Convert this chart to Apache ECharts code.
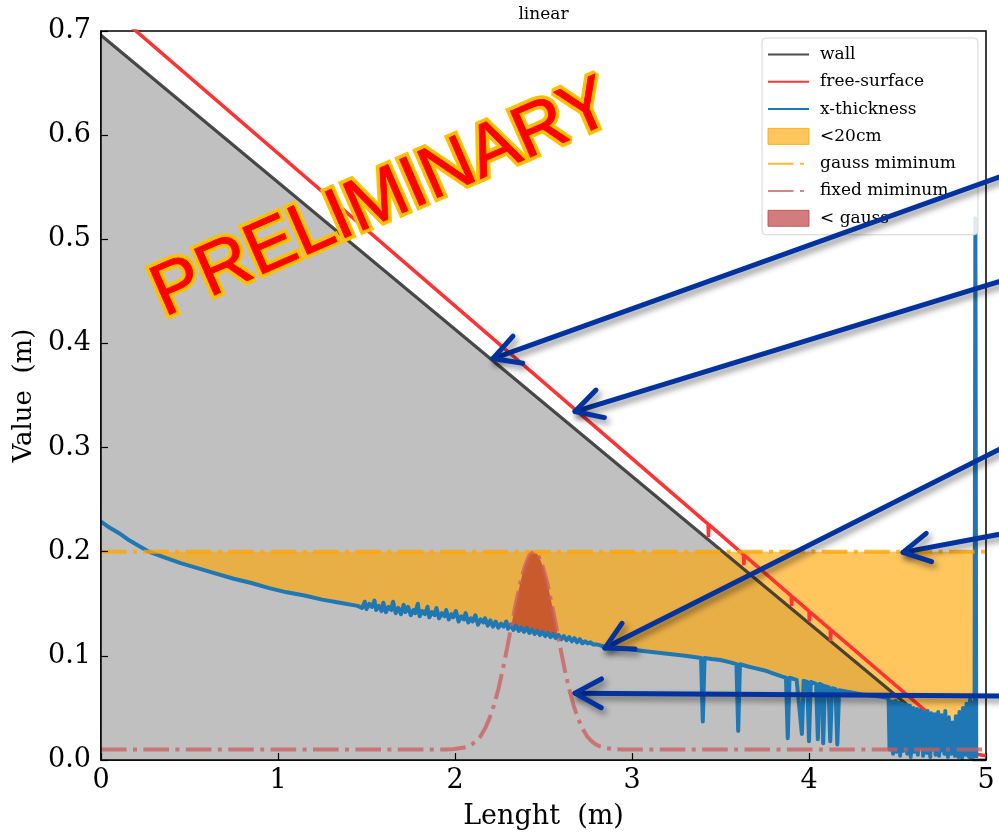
<!DOCTYPE html>
<html>
<head>
<meta charset="utf-8">
<script src="https://cdn.jsdelivr.net/npm/echarts@6/dist/echarts.min.js"></script>
<style>html,body{margin:0;padding:0;background:#fff}#c{width:999px;height:835px}</style>
</head>
<body>
<div id="c"></div>
<script>
// ---------- data ----------
const xTicks = [0, 1, 2, 3, 4, 5];
const yTicks = [0.0, 0.1, 0.2, 0.3, 0.4, 0.5, 0.6, 0.7];

const wall = [[0, 0.696], [4.93, 0.0], [5.0, 0.0]];

// visible part of the free surface, and the short piece at the bottom right
const freeSurface = [
  [0, 0.729], [3.43, 0.2265], [3.432, 0.214], [3.435, 0.2260],
  [3.63, 0.1972], [3.632, 0.187], [3.635, 0.1965],
  [3.90, 0.1576], [3.902, 0.148], [3.905, 0.1569],
  [4.00, 0.143], [4.002, 0.133], [4.005, 0.1423],
  [4.12, 0.1254], [4.122, 0.114], [4.125, 0.1247],
  [4.68, 0.044]
];
const freeSurfaceTail = [[4.93, 0.006], [5.0, 0.004]];

const thickness = [
  [0, 0.229], [0.05, 0.223], [0.1, 0.218], [0.15, 0.212], [0.2, 0.207], [0.27, 0.200],
  [0.35, 0.195], [0.45, 0.189], [0.55, 0.184], [0.65, 0.179], [0.75, 0.174], [0.85, 0.170],
  [0.95, 0.165], [1.05, 0.161], [1.15, 0.158], [1.25, 0.154], [1.35, 0.151], [1.45, 0.148],
  [1.46, 0.149], [1.475, 0.146], [1.49, 0.152], [1.50, 0.145], [1.515, 0.150], [1.53, 0.147],
  [1.545, 0.153], [1.555, 0.144], [1.57, 0.148], [1.585, 0.143], [1.595, 0.151], [1.61, 0.142],
  [1.625, 0.147], [1.64, 0.144], [1.65, 0.152], [1.665, 0.141], [1.68, 0.146], [1.695, 0.140],
  [1.71, 0.149], [1.72, 0.142], [1.735, 0.147], [1.75, 0.139], [1.765, 0.144], [1.775, 0.141],
  [1.79, 0.150], [1.80, 0.138], [1.815, 0.143], [1.83, 0.140], [1.845, 0.147], [1.855, 0.137],
  [1.87, 0.142], [1.885, 0.139], [1.895, 0.146], [1.91, 0.136], [1.925, 0.141], [1.94, 0.138],
  [1.95, 0.144], [1.965, 0.135], [1.98, 0.140], [1.99, 0.137], [2.005, 0.143], [2.02, 0.133],
  [2.035, 0.138], [2.05, 0.135], [2.06, 0.141], [2.075, 0.132], [2.09, 0.136], [2.10, 0.133],
  [2.115, 0.139], [2.13, 0.130], [2.145, 0.135], [2.16, 0.132], [2.17, 0.136], [2.185, 0.129],
  [2.20, 0.134], [2.215, 0.128], [2.23, 0.133], [2.245, 0.127], [2.26, 0.131], [2.275, 0.128],
  [2.29, 0.133], [2.30, 0.126], [2.315, 0.130], [2.33, 0.125], [2.345, 0.129], [2.36, 0.124],
  [2.375, 0.127], [2.39, 0.123], [2.405, 0.127], [2.42, 0.122], [2.435, 0.125], [2.45, 0.121],
  [2.465, 0.124], [2.48, 0.120], [2.495, 0.123], [2.51, 0.119], [2.525, 0.122], [2.54, 0.118],
  [2.555, 0.121], [2.57, 0.117], [2.585, 0.120], [2.60, 0.116], [2.615, 0.119], [2.63, 0.115],
  [2.645, 0.118], [2.66, 0.114], [2.675, 0.117], [2.69, 0.113], [2.705, 0.116], [2.72, 0.112],
  [2.735, 0.114], [2.75, 0.112], [2.765, 0.113], [2.78, 0.111], [2.80, 0.111], [2.82, 0.110],
  [2.84, 0.109], [2.87, 0.109], [2.90, 0.108], [2.95, 0.107],
  [3.00, 0.106], [3.05, 0.105], [3.10, 0.104], [3.15, 0.103], [3.20, 0.102],
  [3.25, 0.101], [3.30, 0.100], [3.35, 0.099], [3.39, 0.098], [3.40, 0.037], [3.41, 0.098],
  [3.45, 0.097], [3.50, 0.096], [3.55, 0.094], [3.59, 0.092], [3.60, 0.028], [3.61, 0.092],
  [3.65, 0.090], [3.70, 0.088], [3.75, 0.086], [3.80, 0.083], [3.85, 0.080], [3.87, 0.079],
  [3.88, 0.021], [3.89, 0.079], [3.93, 0.077], [3.96, 0.025], [3.97, 0.076], [3.99, 0.075],
  [4.00, 0.018], [4.01, 0.075], [4.04, 0.073], [4.05, 0.020], [4.06, 0.073], [4.075, 0.072],
  [4.08, 0.016], [4.09, 0.071], [4.11, 0.070], [4.12, 0.018], [4.13, 0.069], [4.15, 0.068],
  [4.16, 0.015], [4.17, 0.067], [4.20, 0.066], [4.30, 0.063], [4.40, 0.061], [4.44, 0.060],
  [4.450, 0.058], [4.455, 0.010], [4.460, 0.054], [4.465, 0.018], [4.470, 0.056], [4.475, 0.006],
  [4.480, 0.052], [4.485, 0.022], [4.490, 0.057], [4.495, 0.008], [4.500, 0.050], [4.505, 0.014],
  [4.510, 0.055], [4.515, 0.004], [4.520, 0.051], [4.525, 0.017], [4.530, 0.054], [4.535, 0.009],
  [4.540, 0.049], [4.545, 0.020], [4.550, 0.053], [4.555, 0.006], [4.560, 0.047], [4.565, 0.013],
  [4.570, 0.052], [4.575, 0.003], [4.580, 0.048], [4.585, 0.016], [4.590, 0.050], [4.595, 0.008],
  [4.600, 0.045], [4.605, 0.019], [4.610, 0.049], [4.615, 0.005], [4.620, 0.044], [4.625, 0.012],
  [4.630, 0.048], [4.635, 0.022], [4.640, 0.042], [4.645, 0.004], [4.650, 0.046], [4.655, 0.011],
  [4.660, 0.040], [4.665, 0.007], [4.670, 0.047], [4.675, 0.015], [4.680, 0.037], [4.685, 0.003],
  [4.690, 0.045], [4.695, 0.010], [4.700, 0.039], [4.705, 0.018], [4.710, 0.044], [4.715, 0.005],
  [4.720, 0.035], [4.725, 0.012], [4.730, 0.046], [4.735, 0.004], [4.740, 0.038], [4.745, 0.009],
  [4.750, 0.043], [4.755, 0.016], [4.760, 0.034], [4.765, 0.006], [4.770, 0.047], [4.775, 0.011],
  [4.780, 0.032], [4.785, 0.003], [4.790, 0.041], [4.795, 0.014], [4.800, 0.028], [4.805, 0.006],
  [4.810, 0.036], [4.815, 0.010], [4.820, 0.030], [4.825, 0.004], [4.830, 0.042], [4.835, 0.013],
  [4.840, 0.039], [4.845, 0.003], [4.850, 0.046], [4.855, 0.008], [4.860, 0.044], [4.865, 0.002],
  [4.870, 0.050], [4.875, 0.012], [4.880, 0.048], [4.885, 0.005], [4.890, 0.054], [4.895, 0.009],
  [4.900, 0.052], [4.905, 0.003], [4.910, 0.058], [4.915, 0.006], [4.920, 0.055], [4.925, 0.002],
  [4.930, 0.030], [4.935, 0.004], [4.94, 0.520], [4.945, 0.002]
];

const gaussMinimum = [[0, 0.2], [5, 0.2]];

const fixedMinimum = [
  [0, 0.010], [1.945, 0.010], [1.995, 0.0105], [2.045, 0.0117], [2.07, 0.013], [2.095, 0.015],
  [2.12, 0.0183], [2.145, 0.023], [2.17, 0.0303], [2.195, 0.040], [2.22, 0.0525], [2.245, 0.068],
  [2.27, 0.0868], [2.295, 0.108], [2.32, 0.130], [2.345, 0.151], [2.37, 0.171], [2.395, 0.186],
  [2.42, 0.1965], [2.445, 0.200], [2.47, 0.1965], [2.495, 0.186], [2.52, 0.171], [2.545, 0.151],
  [2.57, 0.130], [2.595, 0.108], [2.62, 0.0868], [2.645, 0.068], [2.67, 0.0525], [2.695, 0.040],
  [2.72, 0.0303], [2.745, 0.023], [2.77, 0.0183], [2.795, 0.015], [2.82, 0.013], [2.845, 0.0117],
  [2.895, 0.0105], [2.945, 0.010], [5.0, 0.010]
];

// "< gauss" region: x, upper (gauss curve), lower (x-thickness)
const gaussFillX     = [2.315, 2.34, 2.36, 2.38, 2.40, 2.42, 2.445, 2.46, 2.48, 2.50, 2.52, 2.54, 2.56, 2.583];
const gaussFillUpper = [0.127, 0.147, 0.163, 0.178, 0.189, 0.1966, 0.200, 0.1987, 0.193, 0.184, 0.171, 0.1555, 0.138, 0.118];
const gaussFillLower = [0.127, 0.126, 0.126, 0.125, 0.124, 0.123, 0.122, 0.121, 0.121, 0.120, 0.119, 0.119, 0.118, 0.118];

// annotations (data space)
const arrows = [
  { from: [5.11, 0.562], to: [2.215, 0.3855] },
  { from: [5.107, 0.461], to: [2.678, 0.3346] },
  { from: [5.107, 0.301], to: [2.847, 0.1075] },
  { from: [5.107, 0.2177], to: [4.531, 0.1994] },
  { from: [5.107, 0.0614], to: [2.678, 0.0642] }
];
const watermark = { text: 'PRELIMINARY', at: [1.59, 0.538] };

// ---------- chart ----------
const SERIF = 'DejaVu Serif';
const chart = echarts.init(document.getElementById('c'), null, { renderer: 'canvas' });

const orangeFill = 'rgba(255,165,0,0.63)';
const redFill = 'rgba(195,75,40,0.85)';
const dashDot = [25.6, 6.4, 4, 6.4];

const thickForFill = thickness.filter(p => p[0] >= 0.27 && p[0] <= 4.935);
const gaussFillData = gaussFillX.map((x, i) => [x, gaussFillUpper[i], gaussFillLower[i]]);

const GRID = { left: 101, right: 13, top: 31, bottom: 74 };
const hideSym = { opacity: 0 };

const option = {
  animation: false,
  backgroundColor: '#fff',
  grid: Object.assign({ show: true, borderColor: '#000', borderWidth: 1.5, backgroundColor: 'transparent' }, GRID),
  xAxis: {
    type: 'value', min: 0, max: 5, interval: 1,
    name: 'Lenght  (m)', nameLocation: 'middle', nameGap: 43,
    nameTextStyle: { fontFamily: SERIF, fontSize: 27, color: '#000' },
    axisLine: { show: true, onZero: false, lineStyle: { color: '#000', width: 1.5 } },
    axisTick: { show: true, inside: true, length: 7, lineStyle: { color: '#000', width: 1.2 } },
    axisLabel: { fontFamily: SERIF, fontSize: 27, color: '#000', margin: 7,
      formatter: v => xTicks.indexOf(v) >= 0 ? String(v) : '' },
    splitLine: { show: false },
    z: 10
  },
  yAxis: {
    type: 'value', min: 0, max: 0.7, interval: 0.1,
    name: 'Value  (m)', nameLocation: 'middle', nameGap: 62,
    nameTextStyle: { fontFamily: SERIF, fontSize: 26, color: '#000' },
    axisLine: { show: true, onZero: false, lineStyle: { color: '#000', width: 1.5 } },
    axisTick: { show: true, inside: true, length: 7, lineStyle: { color: '#000', width: 1.2 } },
    axisLabel: { fontFamily: SERIF, fontSize: 27, color: '#000', margin: 10,
      formatter: v => {
        const t = yTicks.find(k => Math.abs(k - v) < 1e-6);
        return t === undefined ? '' : t.toFixed(1);
      } },
    splitLine: { show: false },
    z: 10
  },
  legend: {
    orient: 'vertical', left: 762, top: 38,
    padding: [8, 22, 8, 5],
    itemWidth: 41, itemHeight: 16, itemGap: 10.3,
    backgroundColor: 'rgba(255,255,255,0.85)', borderColor: '#d4d4d4', borderWidth: 1, borderRadius: 4,
    textStyle: { fontFamily: SERIF, fontSize: 17, color: '#000', padding: [0, 0, 0, 6] },
    selectedMode: false,
    z: 20,
    data: [
      { name: 'wall', itemStyle: hideSym },
      { name: 'free-surface', itemStyle: hideSym },
      { name: 'x-thickness', itemStyle: hideSym },
      { name: '<20cm', icon: 'rect', itemStyle: { color: orangeFill, borderColor: 'rgba(255,165,0,0.8)', borderWidth: 1 } },
      { name: 'gauss miminum', itemStyle: hideSym },
      { name: 'fixed miminum', itemStyle: hideSym },
      { name: '< gauss', icon: 'rect', itemStyle: { color: 'rgba(190,70,70,0.7)', borderColor: 'rgba(190,70,70,0.8)', borderWidth: 1 } }
    ]
  },
  series: [
    {
      name: 'wall', type: 'line', data: wall, symbol: 'none', z: 2,
      color: '#404040',
      lineStyle: { color: 'rgba(45,45,45,0.85)', width: 3.2 },
      areaStyle: { color: '#c0c0c0', opacity: 1, origin: 'start' }
    },
    {
      name: 'free-surface', type: 'line', data: freeSurface, symbol: 'none', z: 2,
      color: '#ff3333',
      lineStyle: { color: '#ff3333', width: 3.5 }
    },
    {
      name: 'free-surface', type: 'line', data: freeSurfaceTail, symbol: 'none', z: 2,
      color: '#ff3333',
      lineStyle: { color: '#ff3333', width: 3.5 }
    },
    {
      name: '<20cm', type: 'line', data: thickForFill, symbol: 'none', z: 2,
      color: orangeFill,
      lineStyle: { width: 0, opacity: 0 },
      areaStyle: { color: orangeFill, opacity: 1, origin: 0.2 }
    },
    {
      name: '< gauss', type: 'custom', data: gaussFillData, z: 2,
      color: redFill,
      encode: { x: 0, y: [1, 2] },
      renderItem: (params, api) => {
        if (params.dataIndex !== 0) return null;
        const pts = [];
        for (let i = 0; i < gaussFillData.length; i++) pts.push(api.coord([gaussFillData[i][0], gaussFillData[i][1]]));
        for (let i = gaussFillData.length - 1; i >= 0; i--) pts.push(api.coord([gaussFillData[i][0], gaussFillData[i][2]]));
        return { type: 'polygon', shape: { points: pts }, style: { fill: redFill } };
      }
    },
    {
      name: 'x-thickness', type: 'line', data: thickness, symbol: 'none', z: 3,
      color: '#1f77b4',
      lineStyle: { color: '#1f77b4', width: 4, join: 'round' }
    },
    {
      name: 'gauss miminum', type: 'line', data: gaussMinimum, symbol: 'none', z: 3,
      color: 'rgba(255,165,0,0.8)',
      lineStyle: { color: 'rgba(255,165,0,0.8)', width: 4, type: dashDot }
    },
    {
      name: 'fixed miminum', type: 'line', data: fixedMinimum, symbol: 'none', z: 3,
      color: 'rgba(205,92,92,0.75)',
      lineStyle: { color: 'rgba(205,92,92,0.75)', width: 4, type: dashDot }
    }
  ]
};

chart.setOption(option);

// ---------- annotations ----------
function px(p) { return chart.convertToPixel({ gridIndex: 0 }, p); }
const graphics = [];
const plotCenterX = GRID.left + (999 - GRID.left - GRID.right) / 2;
graphics.push({
  type: 'text', x: plotCenterX, y: 15, z: 30,
  style: { text: 'linear', fontFamily: SERIF, fontSize: 17, fill: '#000', align: 'center', verticalAlign: 'middle' }
});
const wp = px(watermark.at);
const rot = 23.6 * Math.PI / 180;
graphics.push({
  type: 'text', x: wp[0], y: wp[1], rotation: rot, z: 90,
  style: { text: watermark.text, fontFamily: 'Liberation Sans', fontSize: 73, fill: 'rgba(0,0,0,0)',
    stroke: '#ffc000', lineWidth: 8, lineJoin: 'round', align: 'center', verticalAlign: 'middle' }
});
graphics.push({
  type: 'text', x: wp[0], y: wp[1], rotation: rot, z: 91,
  style: { text: watermark.text, fontFamily: 'Liberation Sans', fontSize: 73, fill: '#ff0000',
    stroke: '#ff0000', lineWidth: 0.8, align: 'center', verticalAlign: 'middle' }
});
arrows.forEach(a => {
  const p0 = px(a.from), p1 = px(a.to);
  const ang = Math.atan2(p1[1] - p0[1], p1[0] - p0[0]);
  const L = 30, spread = 0.5;
  const h1 = [p1[0] - L * Math.cos(ang - spread), p1[1] - L * Math.sin(ang - spread)];
  const h2 = [p1[0] - L * Math.cos(ang + spread), p1[1] - L * Math.sin(ang + spread)];
  const style = { stroke: '#0033a0', lineWidth: 5, lineCap: 'round', lineJoin: 'round', fill: null,
    shadowBlur: 6, shadowColor: 'rgba(0,0,0,0.45)', shadowOffsetX: 3, shadowOffsetY: 4 };
  graphics.push({ type: 'polyline', shape: { points: [p0, p1] }, style: style, z: 100 });
  graphics.push({ type: 'polyline', shape: { points: [h1, p1, h2] }, style: style, z: 100 });
});
chart.setOption({ graphic: graphics });
</script>
</body>
</html>
